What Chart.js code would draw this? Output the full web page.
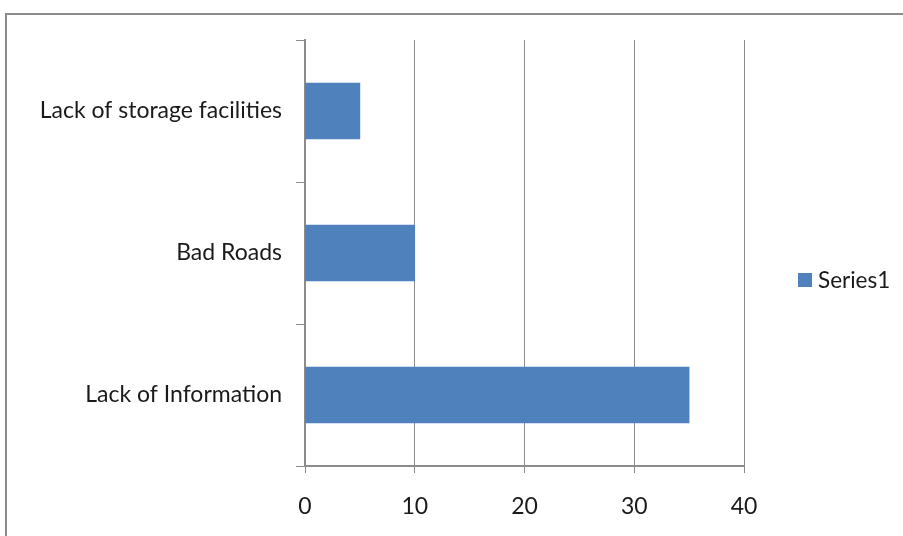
<!DOCTYPE html>
<html>
<head>
<meta charset="utf-8">
<script src="https://cdn.jsdelivr.net/npm/chart.js@4.4.0/dist/chart.umd.min.js"></script>
<style>
    html, body { margin: 0; padding: 0; background: #fff; overflow: hidden; }
    #wrap { position: relative; width: 903px; height: 536px; }
    #frame {
        position: absolute; left: 5px; top: 13px;
        width: 1000px; height: 600px;
        border: 2px solid #8c8c8c; box-sizing: border-box;
    }
    #chart { position: absolute; left: 0; top: 0; }
</style>
</head>
<body>
<div id="wrap">
    <div id="frame"></div>
    <canvas id="chart" width="903" height="536"></canvas>
</div>
<script>
// ===== CHART DATA =====
const categories = ["Lack of storage facilities", "Bad Roads", "Lack of Information"];
const series1 = [5, 10, 35];
const xTicks = [0, 10, 20, 30, 40];
const seriesName = "Series1";

const barColor = "#4f81bd";
const axisColor = "#8c8c8c";
const textColor = "#1a1a1a";
const fontFamily = "Lato, 'Open Sans', sans-serif";
const fontSize = 23;

// Simple legend drawn at the right, like the original
const legendPlugin = {
    id: "sideLegend",
    afterDraw(chart) {
        const ctx = chart.ctx;
        ctx.save();
        ctx.fillStyle = barColor;
        ctx.fillRect(798, 273, 14, 14);
        ctx.fillStyle = textColor;
        ctx.font = "22.5px " + fontFamily;
        ctx.textBaseline = "middle";
        ctx.textAlign = "left";
        ctx.fillText(seriesName, 818, 281);
        ctx.restore();
    },
};

document.addEventListener("DOMContentLoaded", function () {
    const ctx = document.getElementById("chart");
    new Chart(ctx, {
        type: "bar",
        data: {
            labels: categories,
            datasets: [
                {
                    label: seriesName,
                    data: series1,
                    backgroundColor: barColor,
                    barThickness: 56,
                },
            ],
        },
        options: {
            indexAxis: "y",
            responsive: false,
            animation: false,
            layout: { padding: { top: 40, right: 159, left: 0, bottom: 0 } },
            plugins: {
                legend: { display: false },
                tooltip: { enabled: false },
            },
            scales: {
                x: {
                    min: 0,
                    max: 40,
                    afterBuildTicks(axis) {
                        axis.ticks = xTicks.map((v) => ({ value: v }));
                    },
                    afterFit(axis) {
                        axis.height = 70;
                    },
                    grid: {
                        color: axisColor,
                        lineWidth: 1,
                        tickLength: 7,
                        drawOnChartArea: true,
                    },
                    border: { color: axisColor, width: 2 },
                    ticks: {
                        color: textColor,
                        padding: 20,
                        font: { family: fontFamily, size: fontSize },
                    },
                },
                y: {
                    afterFit(axis) {
                        axis.width = 305;
                    },
                    grid: {
                        offset: true,
                        drawOnChartArea: false,
                        color: axisColor,
                        tickLength: 9,
                    },
                    border: { color: axisColor, width: 2 },
                    ticks: {
                        color: textColor,
                        padding: 14,
                        font: { family: fontFamily, size: fontSize },
                    },
                },
            },
        },
        plugins: [legendPlugin],
    });
});
</script>
</body>
</html>
